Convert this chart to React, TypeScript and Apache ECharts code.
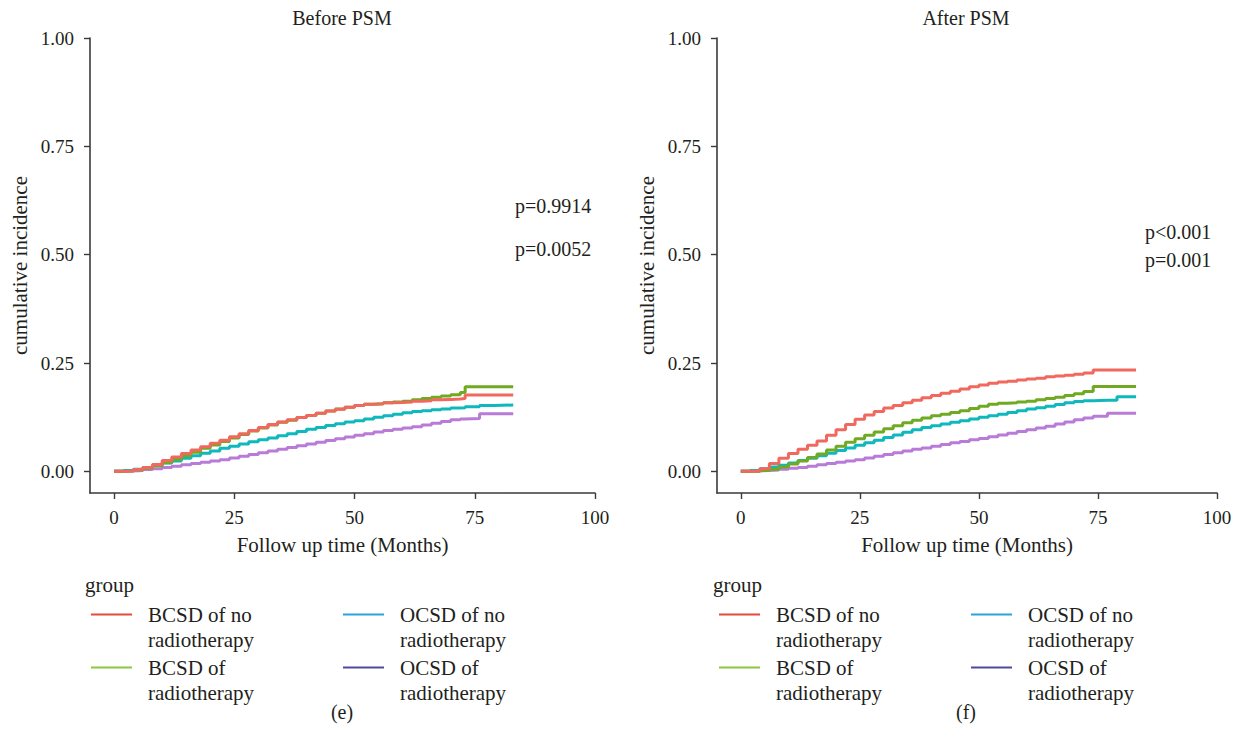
import React, { useEffect, useRef } from "react";
import * as echarts from "echarts";

const FONT = "Liberation Serif";
const TEXT = "#231f20";
const AXIS = "#3a3a3a";

const seriesNames = [
  "BCSD of no radiotherapy",
  "BCSD of radiotherapy",
  "OCSD of no radiotherapy",
  "OCSD of radiotherapy",
];
const legendLabels = [
  " \nBCSD of no\nradiotherapy",
  " \nBCSD of\nradiotherapy",
  " \nOCSD of no\nradiotherapy",
  " \nOCSD of\nradiotherapy",
];
const lineColors = ["#F0685E", "#6FAA22", "#0FB8BC", "#B97BD8"];
const legendColors = ["#E8493A", "#8DC641", "#29A3DC", "#4F4AA0"];

const xTicks = [0, 25, 50, 75, 100];
const yTicks = [0, 0.25, 0.5, 0.75, 1];
const panelTitles = ["Before PSM", "After PSM"];
const panelCaptions = ["(e)", "(f)"];
const pValuesBefore = ["p=0.9914", "p=0.0052"];
const pValuesAfter = ["p<0.001", "p=0.001"];

// Before PSM
const beforeTimes = [0, 2, 4, 6, 8, 10, 12, 14, 16, 18, 20, 22, 24, 26, 28, 30, 32, 34, 36, 38, 40, 42, 44, 46, 48, 50, 52, 54, 56, 58, 60, 62, 64, 66, 68, 70, 72, 73, 76, 79, 83];
const beforeBcsdNoRt = [0, 0.001, 0.004, 0.009, 0.016, 0.025, 0.033, 0.041, 0.049, 0.057, 0.065, 0.072, 0.08, 0.087, 0.094, 0.101, 0.108, 0.114, 0.119, 0.124, 0.129, 0.134, 0.139, 0.143, 0.148, 0.152, 0.155, 0.156, 0.158, 0.159, 0.16, 0.162, 0.163, 0.165, 0.166, 0.167, 0.168, 0.176, 0.176, 0.176, 0.176];
const beforeBcsdRt = [0, 0.001, 0.003, 0.007, 0.013, 0.02, 0.028, 0.036, 0.044, 0.053, 0.061, 0.069, 0.077, 0.085, 0.093, 0.1, 0.107, 0.113, 0.118, 0.124, 0.129, 0.134, 0.139, 0.144, 0.148, 0.152, 0.155, 0.156, 0.158, 0.16, 0.162, 0.165, 0.168, 0.171, 0.174, 0.177, 0.182, 0.195, 0.195, 0.195, 0.195];
const beforeOcsdNoRt = [0, 0.002, 0.005, 0.009, 0.014, 0.019, 0.024, 0.03, 0.036, 0.042, 0.047, 0.053, 0.058, 0.063, 0.068, 0.073, 0.077, 0.082, 0.087, 0.092, 0.097, 0.101, 0.106, 0.11, 0.114, 0.117, 0.121, 0.125, 0.128, 0.132, 0.135, 0.138, 0.14, 0.142, 0.144, 0.146, 0.147, 0.149, 0.152, 0.153, 0.153];
const beforeOcsdRt = [0, 0.001, 0.002, 0.004, 0.006, 0.009, 0.012, 0.015, 0.018, 0.021, 0.024, 0.027, 0.031, 0.035, 0.039, 0.043, 0.047, 0.051, 0.055, 0.059, 0.063, 0.067, 0.071, 0.075, 0.079, 0.083, 0.087, 0.091, 0.094, 0.097, 0.1, 0.103, 0.107, 0.111, 0.115, 0.119, 0.121, 0.122, 0.133, 0.133, 0.133];

// After PSM
const afterTimes = [0, 2, 4, 6, 8, 10, 12, 14, 16, 18, 20, 22, 24, 26, 28, 30, 32, 34, 36, 38, 40, 42, 44, 46, 48, 50, 52, 54, 56, 58, 60, 62, 64, 66, 68, 70, 72, 74, 77, 79, 83];
const afterBcsdNoRt = [0, 0.001, 0.006, 0.018, 0.03, 0.041, 0.051, 0.06, 0.07, 0.083, 0.096, 0.108, 0.12, 0.13, 0.138, 0.146, 0.152, 0.158, 0.164, 0.17, 0.175, 0.18, 0.185, 0.19, 0.195, 0.199, 0.203, 0.206, 0.208, 0.211, 0.213, 0.215, 0.218, 0.22, 0.222, 0.224, 0.227, 0.234, 0.234, 0.234, 0.234];
const afterBcsdRt = [0, 0, 0.002, 0.005, 0.01, 0.017, 0.024, 0.032, 0.04, 0.049, 0.058, 0.067, 0.075, 0.083, 0.091, 0.098, 0.105, 0.112, 0.118, 0.123, 0.128, 0.132, 0.136, 0.14, 0.145, 0.15, 0.155, 0.157, 0.158, 0.16, 0.162, 0.165, 0.168, 0.171, 0.175, 0.179, 0.184, 0.196, 0.196, 0.196, 0.196];
const afterOcsdNoRt = [0, 0.002, 0.006, 0.01, 0.014, 0.019, 0.025, 0.03, 0.036, 0.042, 0.048, 0.054, 0.06, 0.066, 0.072, 0.078, 0.084, 0.09, 0.096, 0.101, 0.105, 0.109, 0.113, 0.117, 0.121, 0.125, 0.128, 0.132, 0.136, 0.14, 0.144, 0.147, 0.15, 0.154, 0.158, 0.161, 0.163, 0.164, 0.164, 0.172, 0.172];
const afterOcsdRt = [0, 0.001, 0.002, 0.003, 0.005, 0.007, 0.009, 0.012, 0.015, 0.018, 0.021, 0.024, 0.027, 0.031, 0.035, 0.039, 0.043, 0.047, 0.051, 0.054, 0.058, 0.062, 0.066, 0.069, 0.073, 0.076, 0.08, 0.084, 0.088, 0.092, 0.096, 0.1, 0.104, 0.109, 0.114, 0.119, 0.123, 0.127, 0.134, 0.134, 0.134];

const panels = [
  { times: beforeTimes, values: [beforeBcsdNoRt, beforeBcsdRt, beforeOcsdNoRt, beforeOcsdRt] },
  { times: afterTimes, values: [afterBcsdNoRt, afterBcsdRt, afterOcsdNoRt, afterOcsdRt] },
];

// legend grid layout: [seriesIndex, col, row]
const legendLayout = [
  [0, 0, 0],
  [2, 1, 0],
  [1, 0, 1],
  [3, 1, 1],
];

function buildOption() {
  const gridDefs = [
    { left: 90, top: 38, width: 505, height: 455 },
    { left: 717, top: 38, width: 500, height: 455 },
  ];
  const panelCenters = [342, 966];
  const panelOffsets = [0, 628];

  const grid = gridDefs.map((g) => ({ ...g, containLabel: false }));
  const xAxis = gridDefs.map((_, i) => ({
    type: "value",
    gridIndex: i,
    min: -5,
    max: 100,
    name: "Follow up time (Months)",
    nameLocation: "middle",
    nameGap: 41,
    nameTextStyle: { fontFamily: FONT, fontSize: 21, color: TEXT },
    axisLine: { show: true, onZero: false, lineStyle: { color: AXIS, width: 1.6 } },
    axisTick: { show: true, customValues: xTicks, length: 6, lineStyle: { color: AXIS, width: 1.4 } },
    axisLabel: { customValues: xTicks, fontFamily: FONT, fontSize: 19, color: TEXT, margin: 15 },
    splitLine: { show: false },
  }));
  const yAxis = gridDefs.map((_, i) => ({
    type: "value",
    gridIndex: i,
    min: -0.05,
    max: 1,
    name: "cumulative incidence",
    nameLocation: "middle",
    nameGap: 60,
    nameTextStyle: { fontFamily: FONT, fontSize: 21, color: TEXT },
    axisLine: { show: true, onZero: false, lineStyle: { color: AXIS, width: 1.6 } },
    axisTick: { show: true, customValues: yTicks, length: 6, lineStyle: { color: AXIS, width: 1.4 } },
    axisLabel: {
      customValues: yTicks,
      fontFamily: FONT,
      fontSize: 19,
      color: TEXT,
      margin: 16,
      formatter: (v: number) => v.toFixed(2),
    },
    splitLine: { show: false },
  }));

  const series: any[] = [];
  panels.forEach((p, pi) => {
    p.values.forEach((vals, si) => {
      series.push({
        type: "line",
        name: seriesNames[si],
        xAxisIndex: pi,
        yAxisIndex: pi,
        step: "end",
        showSymbol: false,
        symbol: "none",
        itemStyle: { color: lineColors[si] },
        lineStyle: { width: 3, color: lineColors[si] },
        z: 10 - si,
        data: p.times.map((t, k) => [t, vals[k]]),
      });
    });
  });

  const legend: any[] = [];
  panelOffsets.forEach((dx) => {
    legendLayout.forEach(([si, col, row]) => {
      const iconX = dx + (col === 0 ? 91 : 343);
      const iconY = row === 0 ? 615 : 668;
      legend.push({
        data: [
          {
            name: seriesNames[si],
            icon: "rect",
            itemStyle: { color: legendColors[si], borderWidth: 0 },
            lineStyle: { color: legendColors[si], width: 2 },
          },
        ],
        left: iconX,
        top: iconY - 38,
        padding: 0,
        orient: "horizontal",
        icon: "rect",
        itemWidth: 41,
        itemHeight: 2,
        itemStyle: { color: legendColors[si], borderWidth: 0 },
        lineStyle: { color: legendColors[si], width: 2 },
        selectedMode: false,
        formatter: () => legendLabels[si],
        textStyle: {
          fontFamily: FONT,
          fontSize: 21,
          color: TEXT,
          lineHeight: 25,
          padding: [0, 0, 0, 11],
        },
      });
    });
  });

  const txt = (text: string, x: number, y: number, size: number, align = "center") => ({
    type: "text",
    x,
    y,
    silent: true,
    style: {
      text,
      fill: TEXT,
      font: `${size}px ${FONT}`,
      fontFamily: FONT,
      fontSize: size,
      textAlign: align,
      textVerticalAlign: "middle",
      align,
      verticalAlign: "middle",
    },
  });

  const graphic: any[] = [];
  panelCenters.forEach((cx, i) => {
    graphic.push(txt(panelTitles[i], cx, 18, 20));
    graphic.push(txt(panelCaptions[i], cx, 712, 20));
    graphic.push(txt("group", 85 + panelOffsets[i], 585, 21, "left"));
  });
  graphic.push(txt(pValuesBefore[0], 515, 206, 20, "left"));
  graphic.push(txt(pValuesBefore[1], 515, 249, 20, "left"));
  graphic.push(txt(pValuesAfter[0], 1145, 232, 20, "left"));
  graphic.push(txt(pValuesAfter[1], 1145, 260, 20, "left"));

  return {
    animation: false,
    backgroundColor: "#ffffff",
    textStyle: { fontFamily: FONT },
    grid,
    xAxis,
    yAxis,
    legend,
    series,
    graphic,
  };
}

export default function App() {
  const ref = useRef<HTMLDivElement>(null);
  useEffect(() => {
    if (!ref.current) return;
    const chart = echarts.init(ref.current, null, { renderer: "svg" });
    chart.setOption(buildOption() as any);
    return () => chart.dispose();
  }, []);
  return (
    <div
      ref={ref}
      style={{ position: "fixed", left: 0, top: 0, width: 1246, height: 746, background: "#fff" }}
    />
  );
}
